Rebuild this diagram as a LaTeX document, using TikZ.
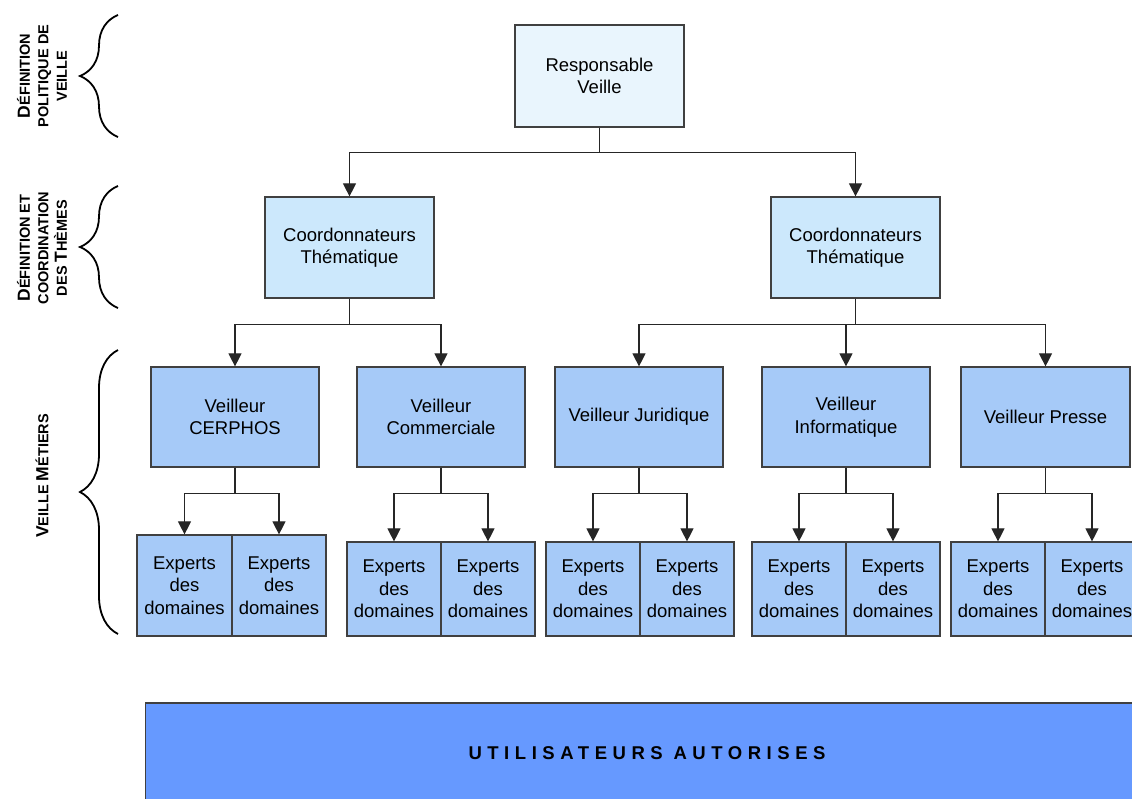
\documentclass[tikz,border=0pt]{standalone}
\usepackage{fontspec}
\setmainfont{Liberation Sans}
\newfontfamily\spacedfont[LetterSpace=30]{Liberation Sans}
\usepackage{xcolor}
\usepackage{tikz}
\usetikzlibrary{arrows.meta,positioning,decorations.pathreplacing}
\definecolor{respfill}{HTML}{E9F5FD}
\definecolor{coordfill}{HTML}{CCE8FC}
\definecolor{veilfill}{HTML}{A6CAF8}
\definecolor{userfill}{HTML}{6699FF}
\definecolor{boxline}{HTML}{404040}
\newcommand{\capletter}[1]{{\fontsize{17.5}{18}\selectfont #1}}

\begin{document}
\begin{tikzpicture}[x=1pt, y=-1pt, >={Triangle[width=13pt,length=13pt]}]
  \tikzset{
    box/.style={draw=boxline, line width=1.2pt, inner sep=0pt, align=center,
      font=\fontsize{18.5}{22.5}\selectfont},
    link/.style={->, line width=1.1pt, draw=black!85},
    sidelabel/.style={rotate=90, align=center,
      font=\bfseries\fontsize{14.5}{18.5}\selectfont},
    bracket/.style={decorate, decoration={brace, amplitude=38pt}, line width=1.8pt}
  }
  \useasboundingbox (0,0) rectangle (1132,798);

  % Side labels and braces
  \node[sidelabel] (lblpol) at (42,76) {\capletter{D}ÉFINITION\\POLITIQUE DE\\VEILLE};
  \node[sidelabel] (lblthm) at (42,248) {\capletter{D}ÉFINITION ET\\COORDINATION\\DES \capletter{T}HÈMES};
  \node[sidelabel] (lblmet) at (42,476) {\capletter{V}EILLE \capletter{M}ÉTIERS};
  \draw[bracket] (118,137) -- (118,15);
  \draw[bracket] (118,308) -- (118,186);
  \draw[bracket] (118,634) -- (118,350);

  % Top level
  \node[box, fill=respfill, minimum width=169pt, minimum height=102pt]
    (resp) at (599.5,76) {Responsable\\Veille};

  % Theme coordinators
  \node[box, fill=coordfill, minimum width=169pt, minimum height=101pt]
    (coordL) at (349.5,247.5) {Coordonnateurs\\Thématique};
  \node[box, fill=coordfill, minimum width=169pt, minimum height=101pt]
    (coordR) at (855.5,247.5) {Coordonnateurs\\Thématique};

  % Veilleurs
  \node[box, fill=veilfill, minimum width=168pt, minimum height=100pt]
    (veilCer) at (235,417) {Veilleur\\CERPHOS};
  \node[box, fill=veilfill, minimum width=168pt, minimum height=100pt]
    (veilCom) at (441,417) {Veilleur\\Commerciale};
  \node[box, fill=veilfill, minimum width=168pt, minimum height=100pt]
    (veilJur) at (639,417) {Veilleur Juridique};
  \node[box, fill=veilfill, minimum width=168pt, minimum height=100pt]
    (veilInf) at (846,417) {Veilleur\\Informatique};
  \node[box, fill=veilfill, minimum width=169pt, minimum height=100pt]
    (veilPre) at (1045.5,417) {Veilleur Presse};

  % Experts (CERPHOS boxes are a bit taller)
  \node[box, fill=veilfill, minimum width=95pt, minimum height=101pt]
    (expCer1) at (184.5,585.5) {Experts\\des\\domaines};
  \node[box, fill=veilfill, minimum width=94pt, minimum height=101pt]
    (expCer2) at (279,585.5) {Experts\\des\\domaines};
  \node[box, fill=veilfill, minimum width=94pt, minimum height=94pt]
    (expCom1) at (394,589) {Experts\\des\\domaines};
  \node[box, fill=veilfill, minimum width=94pt, minimum height=94pt]
    (expCom2) at (488,589) {Experts\\des\\domaines};
  \node[box, fill=veilfill, minimum width=94pt, minimum height=94pt]
    (expJur1) at (593,589) {Experts\\des\\domaines};
  \node[box, fill=veilfill, minimum width=94pt, minimum height=94pt]
    (expJur2) at (687,589) {Experts\\des\\domaines};
  \node[box, fill=veilfill, minimum width=94pt, minimum height=94pt]
    (expInf1) at (799,589) {Experts\\des\\domaines};
  \node[box, fill=veilfill, minimum width=94pt, minimum height=94pt]
    (expInf2) at (893,589) {Experts\\des\\domaines};
  \node[box, fill=veilfill, minimum width=94pt, minimum height=94pt]
    (expPre1) at (998,589) {Experts\\des\\domaines};
  \node[box, fill=veilfill, minimum width=94pt, minimum height=94pt]
    (expPre2) at (1092,589) {Experts\\des\\domaines};

  % Users bar
  \node[draw=boxline, line width=1.2pt, fill=userfill, inner sep=0pt,
    minimum width=1003pt, minimum height=100pt,
    font=\spacedfont\bfseries\fontsize{18.5}{20}\selectfont]
    (users) at (647,753) {UTILISATEURS AUTORISES};

  % Connectors
  \draw[link] (resp.south) -- ++(0,25) -| (coordL);
  \draw[link] (resp.south) -- ++(0,25) -| (coordR);
  \draw[link] (coordL.south) -- ++(0,26) -| (veilCer);
  \draw[link] (coordL.south) -- ++(0,26) -| (veilCom);
  \draw[link] (coordR.south) -- ++(0,26) -| (veilJur);
  \draw[link] (coordR.south) -- ++(0,26) -| (veilInf);
  \draw[link] (coordR.south) -- ++(0,26) -| (veilPre);
  \draw[link] (veilCer.south) -- ++(0,26) -| (expCer1);
  \draw[link] (veilCer.south) -- ++(0,26) -| (expCer2);
  \draw[link] (veilCom.south) -- ++(0,26) -| (expCom1);
  \draw[link] (veilCom.south) -- ++(0,26) -| (expCom2);
  \draw[link] (veilJur.south) -- ++(0,26) -| (expJur1);
  \draw[link] (veilJur.south) -- ++(0,26) -| (expJur2);
  \draw[link] (veilInf.south) -- ++(0,26) -| (expInf1);
  \draw[link] (veilInf.south) -- ++(0,26) -| (expInf2);
  \draw[link] (veilPre.south) -- ++(0,26) -| (expPre1);
  \draw[link] (veilPre.south) -- ++(0,26) -| (expPre2);

\end{tikzpicture}
\end{document}
